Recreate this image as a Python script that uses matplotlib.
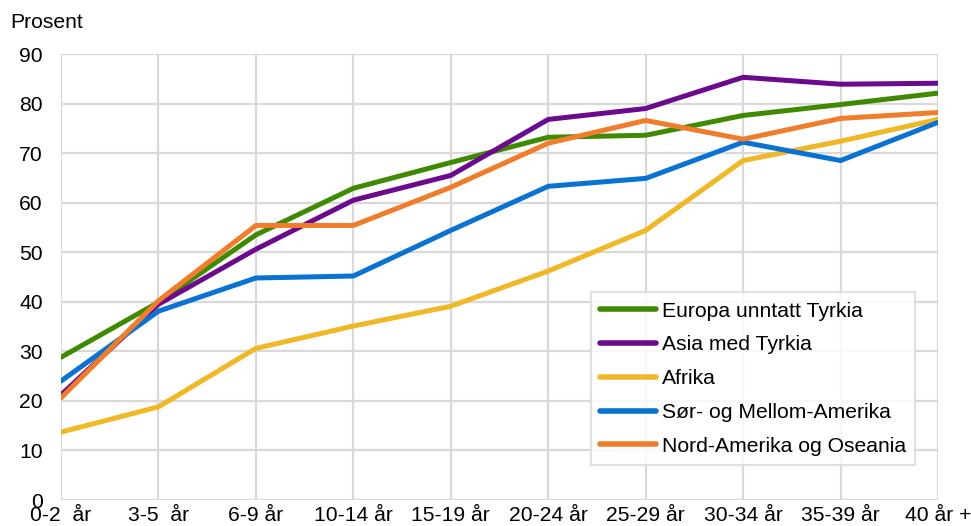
import numpy as np
import matplotlib.pyplot as plt

plt.rcParams['font.family'] = ['Liberation Sans', 'DejaVu Sans']

# ======================================
# Data
# ======================================

kategorier = ["0-2  år", "3-5  år", "6-9 år", "10-14 år", "15-19 år",
              "20-24 år", "25-29 år", "30-34 år", "35-39 år", "40 år +"]

europa = [28.8, 39.9, 53.5, 62.9, 68.1, 73.2, 73.6, 77.6, 79.8, 82.1]
asia = [21.2, 39.5, 50.6, 60.5, 65.5, 76.8, 79.0, 85.3, 83.9, 84.1]
afrika = [13.7, 18.8, 30.6, 35.1, 39.1, 46.2, 54.4, 68.5, 72.4, 76.8]
sor_mellom = [24.0, 38.1, 44.8, 45.2, 54.4, 63.3, 64.9, 72.2, 68.5, 76.2]
nord_oseania = [20.6, 40.2, 55.4, 55.4, 63.1, 72.0, 76.6, 72.8, 77.0, 78.2]

serier = [
    ("Europa unntatt Tyrkia", europa, "#3f8a02"),
    ("Asia med Tyrkia", asia, "#6b0a8c"),
    ("Afrika", afrika, "#f0b726"),
    ("Sør- og Mellom-Amerika", sor_mellom, "#0a72d2"),
    ("Nord-Amerika og Oseania", nord_oseania, "#ef7d2b"),
]

FS = 15.2

# ======================================
# Plot
# ======================================

fig = plt.figure(figsize=(9.71, 5.26), dpi=100)
ax = fig.add_axes([61 / 971, 1 - 500 / 526, (938 - 61) / 971, (500 - 54) / 526])

x = np.arange(len(kategorier))
for navn, verdier, farge in serier:
    ax.plot(x, verdier, color=farge, linewidth=3.6, label=navn,
            solid_capstyle="round", solid_joinstyle="round", zorder=3)

ax.set_xlim(0, len(kategorier) - 1)
ax.set_ylim(0, 90)
ax.set_yticks(np.arange(0, 91, 10))
ax.set_xticks(x)
ax.set_xticklabels(kategorier)

ax.grid(True, color="#d9d9d9", linewidth=1.6, zorder=0)
for s in ax.spines.values():
    s.set_visible(False)
ax.tick_params(length=0, labelsize=FS, colors="black")
ax.tick_params(axis="y", pad=13)
ax.tick_params(axis="x", pad=4)

fig.text(10 / 971, 1 - 23 / 526, "Prosent", fontsize=FS, va="center")

leg = ax.legend(loc="lower right", bbox_to_anchor=(0.974, 0.078),
                fontsize=FS, frameon=True, fancybox=False,
                handlelength=2.65, handletextpad=0.25, labelspacing=0.7,
                borderpad=0.45, borderaxespad=0)
leg.get_frame().set_edgecolor("#d9d9d9")
leg.get_frame().set_linewidth(1.6)
for line in leg.get_lines():
    line.set_linewidth(4)
    line.set_solid_capstyle("round")

fig.savefig("out.png", dpi=100)
plt.close()
